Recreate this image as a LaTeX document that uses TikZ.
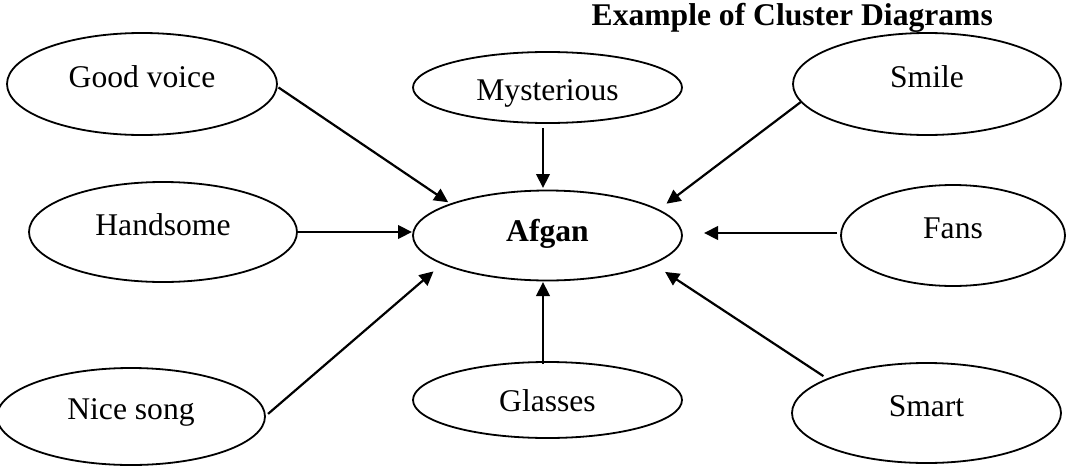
\documentclass[tikz,border=0pt]{standalone}
\usepackage{fontspec}
\setmainfont{Liberation Serif}
\usetikzlibrary{arrows.meta,shapes.geometric}
\begin{document}
\begin{tikzpicture}[x=1pt,y=-1pt,
  bubble/.style={ellipse,draw,line width=1.8pt,inner sep=0pt,outer sep=0pt,
    text height=22pt,text depth=15.1pt,
    font=\fontsize{31.6}{38}\selectfont},
  arr/.style={line width=2.2pt,-{Triangle[length=14pt,width=13.5pt]}},
  ttl/.style={font=\fontsize{31.6}{38}\selectfont\bfseries,inner sep=0pt}]
\useasboundingbox (0,0) rectangle (1068,466);
\node[ttl,anchor=base east] (title) at (993,25) {Example of Cluster Diagrams};
\node[bubble,minimum width=270pt,minimum height=102pt] (gv) at (142,84) {Good voice};
\node[bubble,minimum width=269pt,minimum height=71pt,text height=25pt,text depth=0pt] (my) at (547.5,87.5) {Mysterious};
\node[bubble,minimum width=268pt,minimum height=102pt] (sm) at (927,84) {Smile};
\node[bubble,minimum width=268pt,minimum height=100pt] (hs) at (163,232) {Handsome};
\node[bubble,minimum width=269pt,minimum height=90pt,text depth=10.1pt,font=\fontsize{31.6}{38}\selectfont\bfseries] (af) at (547.5,235.5) {Afgan};
\node[bubble,minimum width=224pt,minimum height=101pt] (fa) at (953,235.5) {Fans};
\node[bubble,minimum width=268pt,minimum height=97pt] (ns) at (131,416.5) {Nice song};
\node[bubble,minimum width=269pt,minimum height=76pt,text height=25.3pt,text depth=2.4pt] (gl) at (547.5,400) {Glasses};
\node[bubble,minimum width=269pt,minimum height=100pt] (sa) at (926.5,413) {Smart};
\draw[arr,shorten <=2pt,shorten >=3.4pt] (gv.-1.7) -- (af.162.7);
\draw[arr,shorten <=5pt,shorten >=2.5pt] ([xshift=-4.5pt]my.south) -- ([xshift=-4.5pt]af.north);
\draw[arr,shorten <=0.5pt,shorten >=10.4pt] (sm.188.6) -- (af.13.7);
\draw[arr,shorten >=1pt] (hs.east) -- (hs.east -| af.west);
\draw[arr,shorten <=4pt,shorten >=22pt] ([yshift=2.5pt]fa.west) -- ([yshift=2.5pt]fa.west -| af.east);
\draw[arr,shorten <=4pt,shorten >=11.9pt] (ns.-0.7) -- (af.195.6);
\draw[arr,shorten <=-2pt,shorten >=1.5pt] ([xshift=-4.5pt]gl.north) -- ([xshift=-4.5pt]af.south);
\draw[arr,shorten <=5.3pt,shorten >=15.1pt] (sa.161.8) -- (af.-15.1);
\end{tikzpicture}
\end{document}
